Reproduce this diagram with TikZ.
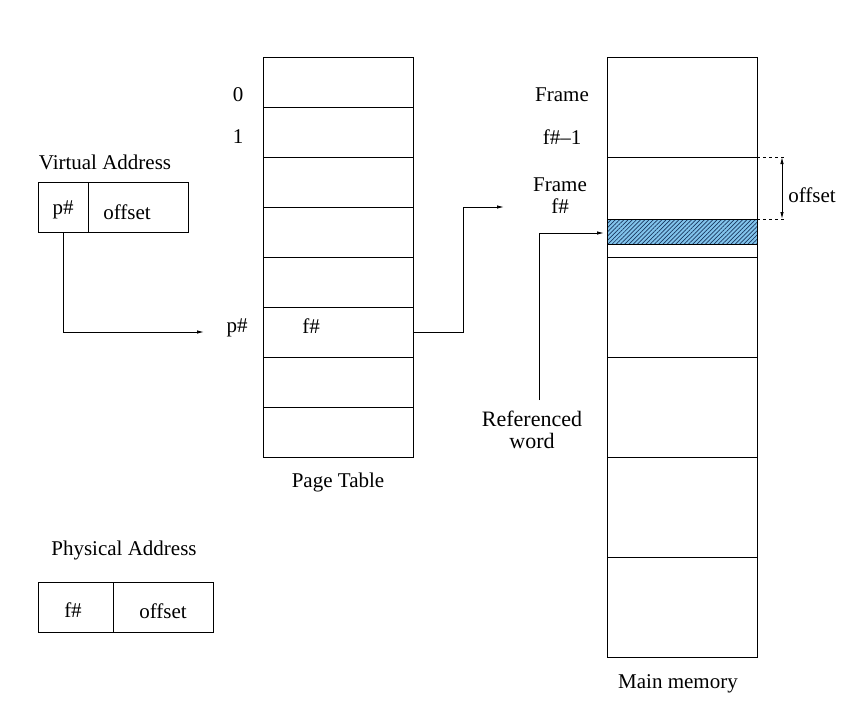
\documentclass[tikz,border=0pt]{standalone}
\usepackage{fontspec}
\setmainfont{Liberation Serif}
\usetikzlibrary{arrows.meta,patterns.meta}
\definecolor{hatchblue}{RGB}{130,196,236}
\definecolor{hatchline}{RGB}{25,55,95}
\begin{document}
\begin{tikzpicture}[x=1pt,y=-1pt,
  every node/.style={font=\fontsize{21}{22}\selectfont, inner sep=0pt, outer sep=0pt},
  cell/.style={draw, line width=0.9pt, minimum width=150pt, anchor=center},
  fld/.style={draw, line width=0.9pt, minimum height=50pt},
  lbl/.style={},
  arr/.style={line width=0.9pt, -{Latex[length=7pt,width=3.5pt]}},
  conn/.style={line width=0.9pt}]
\useasboundingbox (0,0) rectangle (851,712);
% page table
\foreach \k in {0,...,7}{
  \node[cell, minimum height=50pt] (pt\k) at (338,{82+50*\k}) {};
}
\node[lbl] (l0) at (238,95) {0};
\node[lbl] (l1) at (238,137) {1};
\node[lbl] (lp) at (237,328) {p\#};
\node[lbl] (lf) at (311,326) {f\#};
\node[lbl] (ptt) at (338,482) {Page Table};
% virtual address
\node[lbl] (vat) at (105,162) {Virtual Address};
\node[fld, minimum width=50pt] (vp) at (63,207) {};
\node[fld, minimum width=100pt] (voff) at (138,207) {};
\node[lbl] at (63,210) {p\#};
\node[lbl] at (127,212) {offset};
% physical address
\node[lbl] (pat) at (124,550) {Physical Address};
\node[fld, minimum width=75pt] (pf) at (75.5,607) {};
\node[fld, minimum width=100pt] (poff) at (163,607) {};
\node[lbl] at (73,610) {f\#};
\node[lbl] at (163,611) {offset};
% main memory
\node[cell, minimum height=100pt] (m1) at (682,107) {};
\node[cell, minimum height=62pt] (m2) at (682,188) {};
\node[cell, minimum height=25pt, fill=hatchblue] (mh) at (682,231.5) {};
\fill[pattern={Lines[angle=45,distance=3pt,line width=0.7pt]}, pattern color=hatchline] (mh.south west) rectangle (mh.north east);
\draw[line width=0.9pt] (mh.south west) rectangle (mh.north east);
\node[cell, minimum height=13pt] (m3) at (682,250.5) {};
\node[cell, minimum height=100pt] (m4) at (682,307) {};
\node[cell, minimum height=100pt] (m5) at (682,407) {};
\node[cell, minimum height=100pt] (m6) at (682,507) {};
\node[cell, minimum height=100pt] (m7) at (682,607) {};
\node[lbl] (mmt) at (678,684) {Main memory};
\node[lbl] (fr1) at (562,95) {Frame};
\node[lbl] (fr1b) at (562,137) {f\#–1};
\node[lbl, align=center, font=\fontsize{21}{22}\selectfont] (fr2) at (560,196) {Frame\\f\#};
\node[lbl, align=center, font=\fontsize{22}{22}\selectfont] (rw) at (532,430) {Referenced\\word};
\node[lbl] (offt) at (812,195) {offset};
% connectors
\coordinate (a1) at (204,332);
\draw[arr] (vp.south) |- (a1);
\coordinate (a2) at (504,207);
\draw[arr] (pt5.east) -- (463,332) |- (a2);
\coordinate (rwtop) at (539,400);
\coordinate (a3) at (604,233);
\draw[arr] (rwtop) |- (a3);
\draw[dashed, line width=0.9pt] (m2.north east) -- ++(27,0);
\draw[dashed, line width=0.9pt] (mh.north east) -- ++(27,0);
\draw[line width=0.9pt, {Latex[length=7pt,width=3.5pt]}-{Latex[length=7pt,width=3.5pt]}] (782,157) -- (782,219);
\end{tikzpicture}
\end{document}
